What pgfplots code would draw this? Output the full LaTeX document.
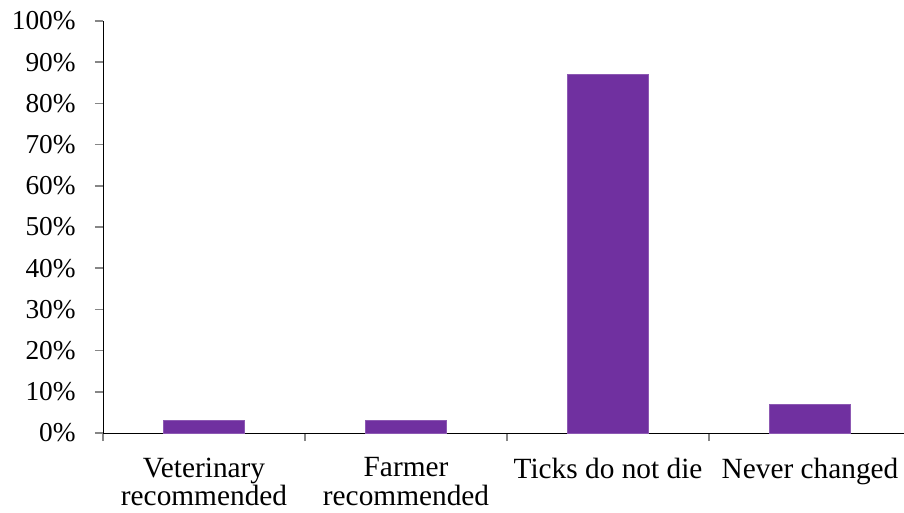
\documentclass[border=0pt]{standalone}
\usepackage{pgfplots}
\pgfplotsset{compat=1.18}
\usepackage{fontspec}
\setmainfont{Liberation Serif}
\definecolor{barpurple}{HTML}{7030A0}
\definecolor{axgray}{HTML}{868686}
\begin{document}
\begin{tikzpicture}
\begin{axis}[
  scale only axis,
  width=600.75pt, height=309pt,
  xmin=-0.5, xmax=3.465,
  ymin=0, ymax=100,
  axis x line*=bottom,
  axis y line*=left,
  axis line style={axgray, line width=1.2pt},
  every outer x axis line/.style={-},
  every outer y axis line/.style={-},
  xtick={0,1,2,3},
  xticklabels={Veterinary\\recommended, Farmer\\recommended, Ticks do not die, Never changed},
  major x tick style={draw=none},
  minor xtick={-0.5,0.5,1.5,2.5},
  minor x tick style={axgray, line width=1.2pt},
  minor tick length=6pt,
  ytick={0,10,...,100},
  yticklabels={0\%,10\%,20\%,30\%,40\%,50\%,60\%,70\%,80\%,90\%,100\%},
  major y tick style={axgray, line width=1.2pt},
  major tick length=6pt,
  tick align=outside,
  xticklabel style={font=\fontsize{22}{21.5}\selectfont, align=center, yshift=-9pt},
  yticklabel style={font=\fontsize{20.5}{22}\selectfont, xshift=-11pt},
  ybar,
  bar width=0.4,
  bar shift=0pt,
  clip=false,
]
\addplot[fill=barpurple, draw=barpurple!80!white] coordinates {(0,3) (1,3) (2,87) (3,7)};
\end{axis}
\pgfresetboundingbox
\path[use as bounding box] ([xshift=-77.25pt,yshift=-59.25pt]current axis.south west) rectangle ([yshift=15.75pt]current axis.north east);
\end{tikzpicture}
\end{document}
